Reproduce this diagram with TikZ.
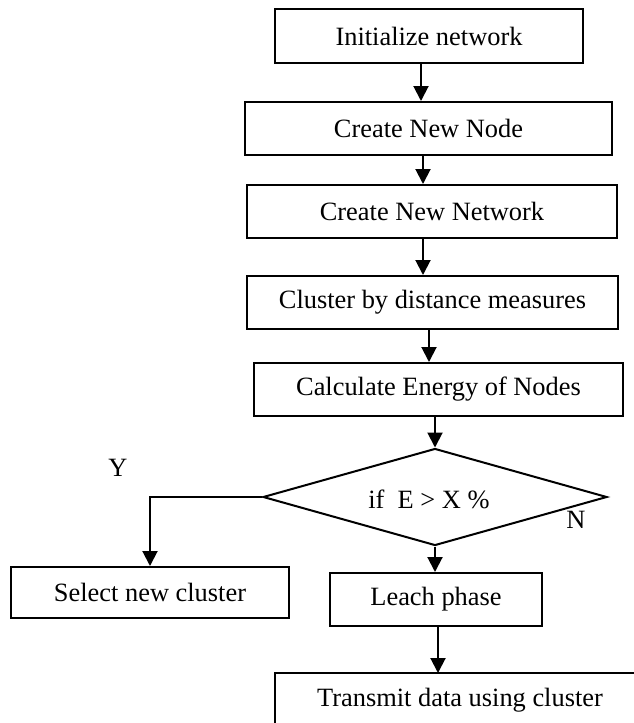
\documentclass[tikz,border=0pt]{standalone}
\usepackage{fontspec}
\setmainfont{Liberation Serif}
\usetikzlibrary{arrows.meta,shapes.geometric}
\begin{document}
\begin{tikzpicture}[x=0.5pt,y=-0.5pt,
  font=\fontsize{13.2}{15}\selectfont,
  box/.style={draw,line width=1pt,inner sep=0pt,anchor=center},
  arr/.style={line width=1pt,-{Triangle[width=7.5pt,length=7.5pt]}},
  lbl/.style={inner sep=0pt,anchor=center}]
\useasboundingbox (0,0) rectangle (633,723);
\node[box,minimum width=154pt,minimum height=27pt] (n1) at (429,36) {Initialize network};
\node[box,minimum width=183.5pt,minimum height=26.5pt] (n2) at (428.5,128.5) {Create New Node};
\node[box,minimum width=185pt,minimum height=26.5pt] (n3) at (432,211.5) {Create New Network};
\node[box,minimum width=185.5pt,minimum height=26.5pt] (n4) at (432.5,302.5) {Cluster by distance measures};
\node[box,minimum width=184.5pt,minimum height=26.5pt] (n5) at (438.5,389.5) {Calculate Energy of Nodes};
\node[draw,line width=1pt,diamond,minimum width=172pt,minimum height=48.5pt,inner sep=0pt,aspect=3.5] (d) at (435,497) {};
\node[lbl] (dt) at (429,499) {if\ \ E > X \%};
\node[box,minimum width=139pt,minimum height=25.5pt] (sel) at (150,592.5) {Select new cluster};
\node[box,minimum width=106pt,minimum height=26.5pt] (lp) at (436,599.5) {Leach phase};
\node[lbl] (tx) at (460,700) {Transmit data using cluster};
\node[lbl] (ly) at (118,468) {Y};
\node[lbl] (ln) at (576,520) {N};
% partial Transmit box
\coordinate (txl) at (275,673);
\coordinate (txr) at (640,673);
\coordinate (txb) at (275,730);
\draw[line width=1pt] (txr) -- (txl) -- (txb);
% arrow columns
\coordinate (a1) at (421,0);
\coordinate (a2) at (423,0);
\coordinate (a3) at (423,0);
\coordinate (a4) at (429,0);
\coordinate (a5) at (435,0);
\coordinate (a6) at (436,0);
\coordinate (a7) at (438,0);
\coordinate (txtop) at (438,673);
\draw[arr] (n1.south -| a1) -- (n2.north -| a1);
\draw[arr] (n2.south -| a2) -- (n3.north -| a2);
\draw[arr] (n3.south -| a3) -- (n4.north -| a3);
\draw[arr] (n4.south -| a4) -- (n5.north -| a4);
\draw[arr] (n5.south -| a5) -- (d.north);
\draw[arr] (d.south) -- (lp.north -| d.south);
\draw[arr] (lp.south -| a7) -- (txtop);
\draw[arr] (d.west) -- (sel.north |- d.west) -- (sel.north);
\end{tikzpicture}
\end{document}
